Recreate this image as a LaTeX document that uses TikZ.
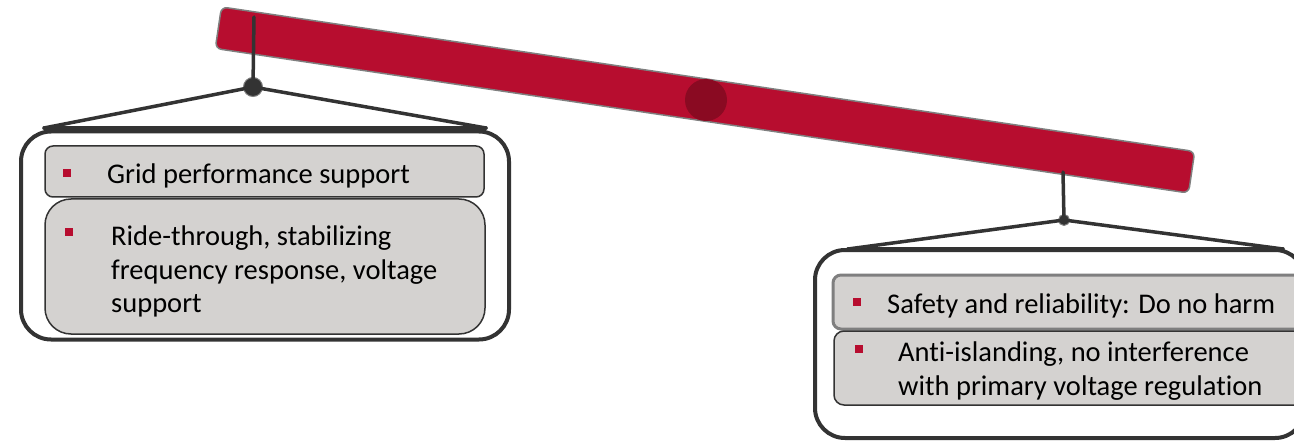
\documentclass[tikz,border=0pt]{standalone}
\usepackage{fontspec}
\setmainfont[Ligatures={NoCommon,NoRequired,NoContextual}]{Carlito}
\definecolor{barred}{HTML}{B70D2F}
\definecolor{pivotred}{HTML}{8A0A22}
\definecolor{boxgray}{HTML}{D4D2D0}
\definecolor{linedark}{HTML}{333333}
\definecolor{edgegray}{HTML}{7F7F7F}
\tikzset{
  hang/.style={draw=linedark, line width=3.5pt, line cap=round},
  outerbox/.style={draw=linedark, line width=4pt, fill=white, rounded corners=30pt, inner sep=0pt},
  innerbox/.style={draw=linedark, line width=1.5pt, fill=boxgray, inner sep=0pt},
  bullet/.style={fill=barred, minimum size=8pt, inner sep=0pt},
  txt/.style={anchor=west, inner sep=0pt, align=left, font=\fontsize{28.5}{33.5}\selectfont, text=black},
  knob/.style={circle, fill=linedark, draw=edgegray, line width=1pt, inner sep=0pt}
}
\begin{document}
\begin{tikzpicture}[x=1pt,y=-1pt]
\useasboundingbox (0,0) rectangle (1294,441);
\clip (0,0) rectangle (1294,441);
% bar
\node[draw=edgegray, line width=1.5pt, fill=barred, rounded corners=6pt, rotate=-8.45, minimum width=984pt, minimum height=42pt, inner sep=0pt] (bar) at (705,100) {};
\node[circle, fill=pivotred, minimum size=42pt, inner sep=0pt] (pivot) at (706,100) {};
% left hanger
\coordinate (lt) at (254,17);
\node[knob, minimum width=19pt, minimum height=16pt] (lk) at (253,87) {};
\coordinate (ll) at (44,128);
\coordinate (lr) at (486,128);
\draw[hang] (lt) -- (lk.center);
\draw[hang] (ll) -- (lk.center) -- (lr);
% right hanger
\coordinate (rt) at (1063,172);
\node[knob, minimum size=11pt] (rk) at (1064,220) {};
\coordinate (rl) at (848,249);
\coordinate (rr) at (1283,249);
\draw[hang] (rt) -- (rk.center);
\draw[hang] (rl) -- (rk.center) -- (rr);
% left boxes
\node[outerbox, minimum width=488pt, minimum height=208pt] (lbox) at (265,235.5) {};
\draw[hang] (ll) -- (lr);
\node[innerbox, rounded corners=8pt, minimum width=439pt, minimum height=51pt] (l1) at (264.5,171.5) {};
\node[innerbox, rounded corners=26pt, minimum width=440pt, minimum height=135pt] (l2) at (265,266.5) {};
\node[bullet] (lb1) at (67,173) {};
\node[txt] (lt1) at (107,176) {Grid performance support};
\node[bullet] (lb2) at (69,232) {};
\node[txt, anchor=north west] (lt2) at (111,226) {Ride-through, stabilizing\\frequency response, voltage\\support};
% right boxes
\node[outerbox, minimum width=490pt, minimum height=188pt] (rbox) at (1060,344) {};
\draw[hang] (rl) -- (rr);
\node[innerbox, draw=edgegray, line width=3pt, rounded corners=8pt, minimum width=480pt, minimum height=54pt] (r1) at (1073,302) {};
\node[innerbox, rounded corners=10pt, minimum width=480pt, minimum height=74pt] (r2) at (1074,368) {};
\node[bullet] (rb1) at (857,302) {};
\node[txt] (rt1) at (887,306) {Safety and reliability: Do no harm};
\node[bullet] (rb2) at (859,349) {};
\node[txt, anchor=north west] (rt2) at (898,342) {Anti-islanding, no interference\\with primary voltage regulation};
\end{tikzpicture}
\end{document}
